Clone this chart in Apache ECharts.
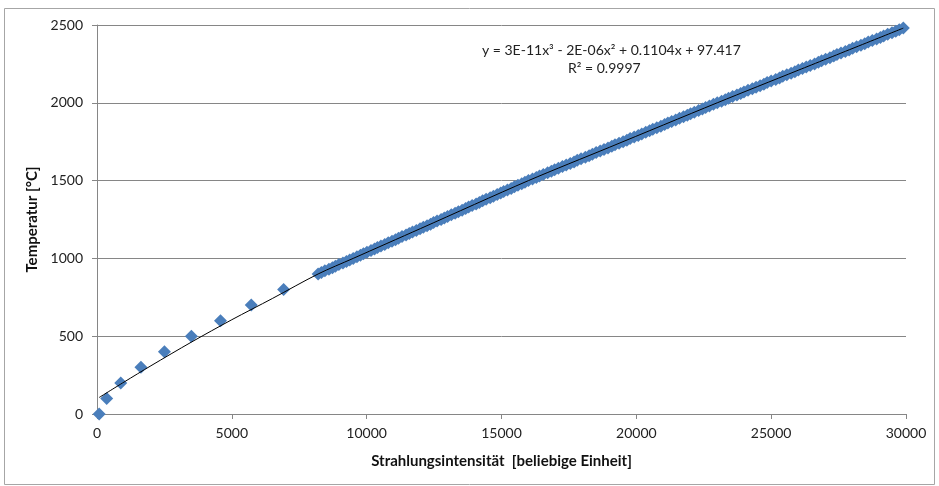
<!DOCTYPE html>
<html>
<head>
<meta charset="utf-8">
<script src="https://cdn.jsdelivr.net/npm/echarts@6/dist/echarts.min.js"></script>
<style>
html,body{margin:0;padding:0;background:#fff;}
#chart{width:939px;height:486px;}
</style>
</head>
<body>
<div id="chart"></div>
<script>
// Measured points (low range)
const lowX = [80, 360, 880, 1630, 2500, 3500, 4580, 5720, 6920];
const lowY = [0, 100, 200, 300, 400, 500, 600, 700, 800];

// Measured points (dense range)
const denseX = [8200, 8320, 8450, 8600, 8730, 8840, 8970, 9120, 9250, 9370,
  9500, 9640, 9770, 9880, 10010, 10160, 10290, 10400, 10530, 10670,
  10800, 10940, 11070, 11180, 11310, 11460, 11580, 11700, 11840, 11980,
  12100, 12240, 12370, 12480, 12610, 12760, 12880, 13000, 13140, 13280,
  13400, 13540, 13670, 13780, 13910, 14060, 14180, 14300, 14430, 14580,
  14700, 14840, 14970, 15080, 15220, 15360, 15480, 15610, 15750, 15870,
  16000, 16150, 16290, 16410, 16550, 16710, 16850, 16970, 17110, 17260,
  17400, 17550, 17690, 17810, 17950, 18110, 18250, 18370, 18510, 18660,
  18800, 18950, 19090, 19210, 19360, 19510, 19650, 19770, 19920, 20070,
  20200, 20350, 20490, 20610, 20760, 20910, 21050, 21170, 21310, 21460,
  21600, 21750, 21890, 22010, 22150, 22310, 22450, 22570, 22710, 22860,
  23000, 23160, 23300, 23420, 23570, 23730, 23870, 23990, 24140, 24300,
  24440, 24590, 24730, 24850, 25000, 25170, 25310, 25430, 25580, 25740,
  25880, 26010, 26160, 26300, 26450, 26610, 26750, 26870, 27020, 27180,
  27320, 27440, 27590, 27750, 27890, 28020, 28170, 28330, 28470, 28600,
  28750, 28910, 29050, 29170, 29320, 29480, 29620, 29750, 29900];
const denseY = [900, 910, 920, 930, 940, 950, 960, 970, 980, 990,
  1000, 1010, 1020, 1030, 1040, 1050, 1060, 1070, 1080, 1090,
  1100, 1110, 1120, 1130, 1140, 1150, 1160, 1170, 1180, 1190,
  1200, 1210, 1220, 1230, 1240, 1250, 1260, 1270, 1280, 1290,
  1300, 1310, 1320, 1330, 1340, 1350, 1360, 1370, 1380, 1390,
  1400, 1410, 1420, 1430, 1440, 1450, 1460, 1470, 1480, 1490,
  1500, 1510, 1520, 1530, 1540, 1550, 1560, 1570, 1580, 1590,
  1600, 1610, 1620, 1630, 1640, 1650, 1660, 1670, 1680, 1690,
  1700, 1710, 1720, 1730, 1740, 1750, 1760, 1770, 1780, 1790,
  1800, 1810, 1820, 1830, 1840, 1850, 1860, 1870, 1880, 1890,
  1900, 1910, 1920, 1930, 1940, 1950, 1960, 1970, 1980, 1990,
  2000, 2010, 2020, 2030, 2040, 2050, 2060, 2070, 2080, 2090,
  2100, 2110, 2120, 2130, 2140, 2150, 2160, 2170, 2180, 2190,
  2200, 2210, 2220, 2230, 2240, 2250, 2260, 2270, 2280, 2290,
  2300, 2310, 2320, 2330, 2340, 2350, 2360, 2370, 2380, 2390,
  2400, 2410, 2420, 2430, 2440, 2450, 2460, 2470, 2480];

// Trend line
const trendX = [80, 1000, 2000, 3500, 5000, 6500, 8200, 9500, 12000, 16000, 19000, 23000, 26000, 29900];
const trendY = [106, 205, 310, 462, 606, 742, 900, 1000, 1192, 1500, 1714, 2000, 2209, 2480];

const xTicks = {min: 0, max: 30000, interval: 5000};
const yTicks = {min: 0, max: 2500, interval: 500};

const xTitle = 'Strahlungsintensität  [beliebige Einheit]';
const yTitle = 'Temperatur [°C]';
const eqLine1 = 'y = 3E-11x³ - 2E-06x² + 0.1104x + 97.417';
const eqLine2 = 'R² = 0.9997';

const scatterData = lowX.map((x, i) => [x, lowY[i]]).concat(denseX.map((x, i) => [x, denseY[i]]));
const trendData = trendX.map((x, i) => [x, trendY[i]]);

const FONT = 'Lato';
const plain = v => String(v);
const chart = echarts.init(document.getElementById('chart'), null, {renderer: 'canvas'});
chart.setOption({
  animation: false,
  backgroundColor: '#fff',
  grid: {left: 97, right: 33, top: 25, bottom: 72, containLabel: false},
  xAxis: {
    type: 'value', min: xTicks.min, max: xTicks.max, interval: xTicks.interval,
    axisLine: {show: true, lineStyle: {color: '#868686', width: 1}},
    axisTick: {show: true, length: 5, lineStyle: {color: '#868686'}},
    splitLine: {show: false},
    axisLabel: {color: '#222', fontFamily: FONT, fontSize: 14, margin: 12, formatter: plain},
    name: xTitle, nameLocation: 'middle', nameGap: 40,
    nameTextStyle: {fontFamily: FONT, fontWeight: 'bold', fontSize: 15, color: '#111'}
  },
  yAxis: {
    type: 'value', min: yTicks.min, max: yTicks.max, interval: yTicks.interval,
    axisLine: {show: true, lineStyle: {color: '#868686', width: 1}},
    axisTick: {show: true, length: 5, lineStyle: {color: '#868686'}},
    splitLine: {show: true, lineStyle: {color: '#868686', width: 1}},
    axisLabel: {color: '#222', fontFamily: FONT, fontSize: 14, margin: 14, formatter: plain},
    name: yTitle, nameLocation: 'middle', nameGap: 57, nameRotate: 90,
    nameTextStyle: {fontFamily: FONT, fontWeight: 'bold', fontSize: 15, color: '#111'}
  },
  graphic: [
    {type: 'rect', shape: {x: 4.5, y: 8.5, width: 930, height: 476}, style: {fill: 'none', stroke: '#a6a6a6', lineWidth: 1}, silent: true, z: -10},
    {type: 'text', left: 482, top: 43, style: {text: eqLine1, font: '14px ' + FONT, fill: '#222'}},
    {type: 'text', left: 568, top: 61, style: {text: eqLine2, font: '14px ' + FONT, fill: '#222'}}
  ],
  series: [
    {
      type: 'scatter', data: scatterData, symbol: 'diamond', symbolSize: 13,
      itemStyle: {color: '#4A7EBB', opacity: 1}, z: 2
    },
    {
      type: 'line', data: trendData, showSymbol: false, smooth: 0.3,
      lineStyle: {color: '#000', width: 1}, z: 3
    }
  ]
});
</script>
</body>
</html>
